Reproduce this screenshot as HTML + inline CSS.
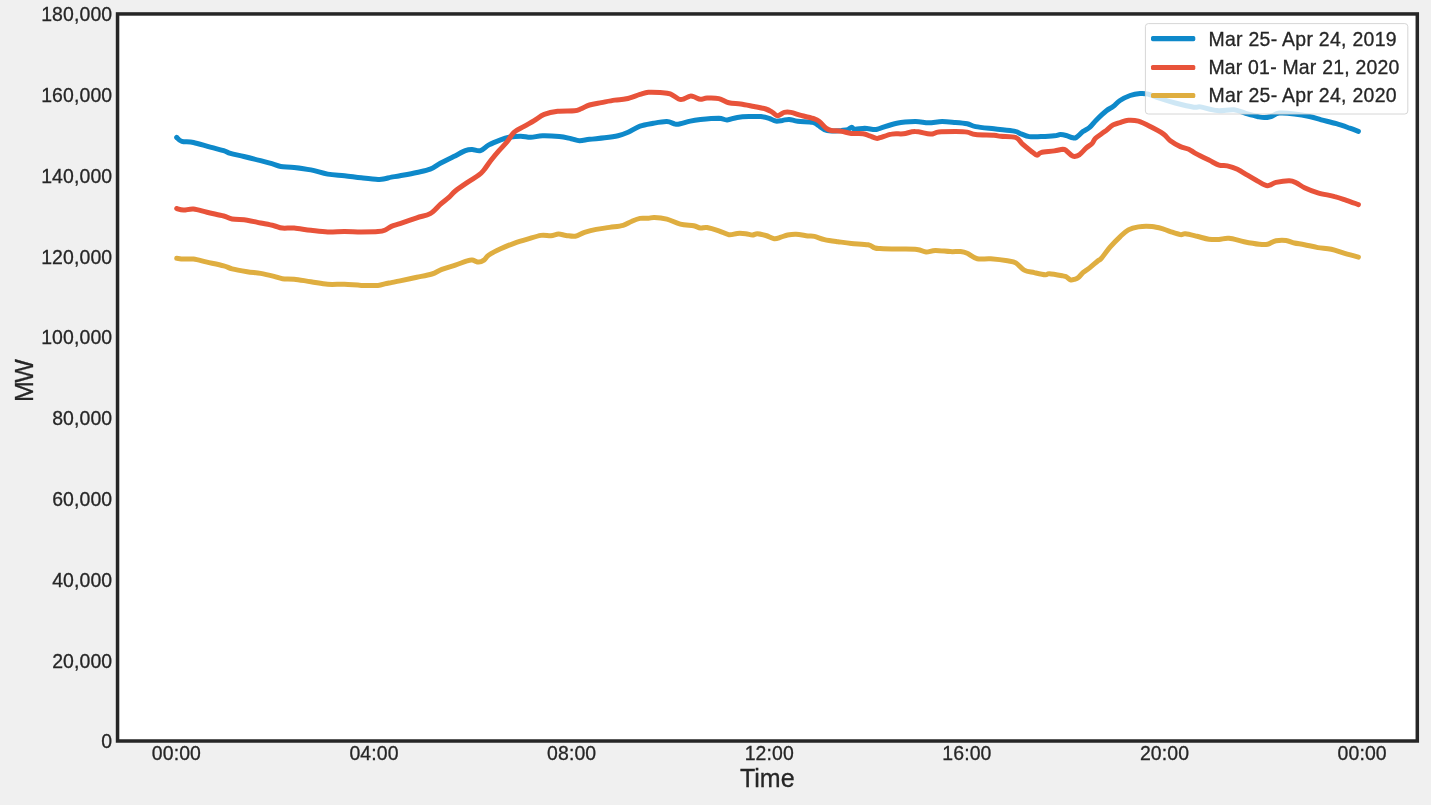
<!DOCTYPE html>
<html lang="en"><head><meta charset="utf-8"><title>Load curve</title>
<style>
html,body{margin:0;padding:0;background:#f0f0f0;}
body{width:1431px;height:805px;overflow:hidden;}
svg{display:block;}
text{font-family:"Liberation Sans",Arial,Helvetica,sans-serif;fill:#262626;stroke:#262626;stroke-width:0.3px;}
.tk{font-size:19.44px;letter-spacing:0.12px;}
.al{font-size:25.0px;}
.ln{fill:none;stroke-width:5.0;stroke-linejoin:round;stroke-linecap:round;}
</style></head><body>
<svg width="1431" height="805" viewBox="0 0 1431 805">
<rect x="0" y="0" width="1431" height="805" fill="#f0f0f0"/>
<rect x="117.55" y="13.95" width="1299.75" height="727.05" fill="#ffffff"/>
<g transform="translate(0,0.4)"><path class="ln" stroke="#0e89ca" d="M176.7,137.1C177.5,137.8 179.0,140.2 181.8,141.0C184.6,141.8 188.8,141.1 193.5,142.1C198.2,143.1 205.3,145.5 210.3,146.8C215.3,148.2 220.3,149.2 223.7,150.2C227.0,151.2 227.0,152.0 230.4,153.0C233.8,154.0 238.9,154.9 243.9,156.1C248.9,157.3 255.6,159.0 260.6,160.3C265.6,161.6 270.6,162.9 274.0,163.9C277.4,164.9 277.4,165.6 280.8,166.1C284.2,166.6 289.2,166.4 294.2,167.0C299.2,167.6 305.3,168.4 310.9,169.5C316.5,170.6 322.1,172.7 327.7,173.7C333.3,174.7 338.9,174.7 344.5,175.3C350.1,175.9 355.7,176.8 361.3,177.4C366.9,178.0 374.1,178.8 378.0,179.0C381.9,179.2 382.5,178.8 384.7,178.4C386.9,178.0 388.8,177.2 391.4,176.7C393.9,176.2 395.8,176.2 400.0,175.4C404.2,174.6 411.8,173.2 416.8,172.1C421.8,171.0 426.3,170.3 430.2,168.8C434.1,167.3 436.4,165.0 440.3,162.9C444.2,160.8 449.5,158.3 453.7,156.2C457.9,154.1 462.3,151.5 465.4,150.3C468.5,149.1 469.6,149.2 472.1,149.2C474.6,149.2 477.7,151.1 480.5,150.3C483.3,149.5 485.5,146.3 488.9,144.5C492.2,142.7 497.2,140.7 500.6,139.4C504.0,138.1 505.6,137.5 509.0,136.9C512.4,136.3 517.2,135.8 520.8,135.8C524.4,135.8 527.2,137.0 530.8,136.9C534.4,136.8 537.9,135.4 542.6,135.3C547.4,135.2 554.5,135.6 559.3,136.1C564.0,136.6 567.7,137.6 571.1,138.3C574.5,139.0 576.4,140.2 579.5,140.3C582.6,140.4 585.3,139.4 589.5,138.9C593.7,138.4 599.9,138.0 604.6,137.4C609.4,136.8 614.1,136.2 618.0,135.3C621.9,134.4 624.4,133.5 628.1,131.9C631.8,130.3 635.8,127.3 640.0,125.8C644.2,124.3 648.9,123.7 653.4,122.9C657.9,122.1 663.2,121.1 666.8,121.2C670.4,121.3 673.0,123.3 675.2,123.7C677.5,124.1 677.8,123.9 680.3,123.4C682.8,122.9 686.9,121.4 690.3,120.7C693.6,120.0 695.6,119.7 700.4,119.2C705.1,118.7 714.3,117.9 718.8,117.9C723.3,118.0 724.1,119.7 727.2,119.5C730.3,119.3 733.7,117.5 737.3,117.0C740.9,116.5 745.1,116.3 749.0,116.2C752.9,116.1 757.4,115.9 760.8,116.2C764.1,116.5 766.6,117.2 769.1,117.9C771.6,118.7 773.6,120.4 775.9,120.7C778.1,121.0 780.4,120.3 782.6,120.0C784.8,119.7 786.8,118.8 789.3,119.0C791.8,119.2 793.8,120.4 797.7,120.9C801.6,121.4 809.4,121.2 812.7,121.9C816.1,122.6 815.8,123.6 817.8,124.8C819.8,126.0 822.3,128.2 824.5,129.2C826.7,130.2 828.4,130.4 831.2,130.6C834.0,130.8 838.5,130.3 841.3,130.1C844.1,129.8 846.3,129.7 848.0,129.1C849.7,128.5 850.6,126.8 851.7,126.8C852.8,126.8 852.5,128.6 854.7,128.8C856.9,129.0 861.4,127.9 864.7,127.9C868.1,128.0 872.2,129.1 874.8,129.1C877.3,129.1 876.3,129.0 880.0,127.9C883.7,126.9 890.9,123.9 896.8,122.8C902.7,121.7 909.9,121.3 915.2,121.2C920.5,121.1 924.1,122.3 928.6,122.3C933.1,122.3 937.6,121.2 942.1,121.2C946.6,121.2 951.3,121.7 955.5,122.0C959.7,122.3 963.9,122.6 967.2,123.3C970.6,124.0 971.1,125.3 975.6,126.2C980.1,127.1 987.6,127.7 994.0,128.4C1000.4,129.2 1009.7,129.9 1014.2,130.7C1018.7,131.5 1018.4,132.5 1020.9,133.4C1023.4,134.3 1026.0,135.7 1029.3,136.2C1032.6,136.7 1036.8,136.3 1041.0,136.2C1045.2,136.1 1051.2,135.8 1054.4,135.4C1057.6,135.1 1058.3,134.2 1060.3,134.1C1062.3,134.0 1064.1,134.5 1066.2,135.1C1068.3,135.7 1071.2,137.1 1072.9,137.4C1074.6,137.7 1074.5,138.1 1076.2,137.1C1077.9,136.1 1080.7,132.9 1082.9,131.2C1085.1,129.5 1087.3,128.9 1089.6,127.0C1091.8,125.0 1093.6,122.3 1096.4,119.5C1099.2,116.7 1103.6,112.5 1106.4,110.3C1109.2,108.1 1110.8,107.8 1113.1,106.1C1115.4,104.4 1117.2,101.9 1120.0,100.1C1122.8,98.3 1126.8,96.3 1130.1,95.1C1133.4,93.9 1137.0,93.3 1140.1,93.1C1143.2,92.9 1145.4,93.0 1148.5,93.8C1151.6,94.5 1154.1,96.1 1158.6,97.6C1163.1,99.1 1169.4,101.1 1175.3,102.6C1181.2,104.1 1189.6,106.1 1193.8,106.8C1198.0,107.5 1196.6,105.9 1200.5,106.5C1204.4,107.1 1211.7,109.7 1217.3,110.2C1222.9,110.7 1229.0,108.9 1234.0,109.4C1239.0,110.0 1243.6,112.4 1247.5,113.5C1251.4,114.6 1254.7,115.5 1257.5,116.1C1260.3,116.7 1262.0,117.2 1264.2,117.2C1266.4,117.2 1268.4,116.8 1270.9,116.1C1273.4,115.3 1275.4,113.1 1279.3,112.7C1283.2,112.3 1289.4,112.9 1294.4,113.5C1299.4,114.1 1305.0,115.1 1309.5,116.1C1314.0,117.1 1316.8,118.2 1321.3,119.4C1325.8,120.6 1331.7,121.9 1336.4,123.3C1341.2,124.7 1346.1,126.5 1349.8,127.8C1353.5,129.1 1357.0,130.4 1358.4,130.9"/>
<path class="ln" stroke="#e8533a" d="M176.7,208.1C177.8,208.4 180.7,209.6 183.5,209.7C186.3,209.8 189.6,208.2 193.5,208.6C197.4,209.0 202.0,210.7 207.0,211.9C212.0,213.1 219.5,214.5 223.7,215.6C227.9,216.7 228.2,217.9 232.1,218.6C236.0,219.3 242.4,219.1 247.2,219.8C251.9,220.5 256.1,221.7 260.6,222.6C265.1,223.5 270.4,224.5 274.0,225.3C277.6,226.2 279.0,227.3 282.4,227.7C285.8,228.1 289.4,227.3 294.2,227.7C298.9,228.1 305.3,229.3 310.9,229.9C316.5,230.5 322.1,231.3 327.7,231.5C333.3,231.7 338.9,231.0 344.5,231.0C350.1,231.0 355.7,231.5 361.3,231.5C366.9,231.5 374.1,231.5 378.0,231.2C381.9,230.9 382.5,230.8 384.7,229.9C386.9,229.0 388.8,227.1 391.4,226.0C393.9,224.9 395.8,224.6 400.0,223.2C404.2,221.8 411.8,219.1 416.8,217.4C421.8,215.7 426.3,215.4 430.2,213.2C434.1,211.0 437.2,206.7 440.3,204.0C443.4,201.3 446.1,199.5 448.6,197.3C451.1,195.1 452.2,193.1 455.3,190.6C458.4,188.1 463.2,184.8 467.1,182.2C471.0,179.5 476.0,176.8 478.8,174.7C481.6,172.6 481.9,172.0 483.9,169.6C485.9,167.2 488.1,163.6 490.6,160.4C493.1,157.2 496.2,153.5 499.0,150.3C501.8,147.1 504.8,144.2 507.3,141.1C509.8,138.0 511.2,134.4 514.0,131.9C516.8,129.4 520.7,128.0 524.1,126.0C527.5,124.0 530.9,122.2 534.2,120.2C537.6,118.2 540.3,115.5 544.2,114.0C548.1,112.5 552.7,111.5 557.7,110.9C562.7,110.3 570.5,110.8 574.4,110.4C578.3,110.0 578.6,109.4 581.1,108.4C583.6,107.4 586.1,105.6 589.5,104.6C592.9,103.6 597.1,103.0 601.3,102.2C605.5,101.4 610.5,100.3 614.7,99.7C618.9,99.1 622.2,99.4 626.4,98.4C630.6,97.5 636.3,95.1 640.0,94.0C643.7,92.9 645.0,92.2 648.4,91.9C651.8,91.6 656.5,91.9 660.1,92.2C663.7,92.5 667.1,92.4 670.2,93.5C673.3,94.6 676.4,97.8 678.6,98.6C680.8,99.4 681.7,99.1 683.6,98.6C685.5,98.1 688.3,96.0 690.3,95.7C692.2,95.4 693.6,96.4 695.3,96.9C697.0,97.4 698.4,98.8 700.4,98.9C702.4,99.0 704.0,97.8 707.1,97.7C710.2,97.6 715.2,97.4 718.8,98.2C722.4,99.0 725.3,101.4 728.9,102.3C732.5,103.2 736.4,103.0 740.6,103.6C744.8,104.2 749.8,105.3 754.0,106.1C758.2,106.9 762.7,107.6 765.8,108.6C768.9,109.6 770.5,110.9 772.5,112.0C774.5,113.1 775.5,115.3 777.5,115.3C779.5,115.3 782.0,112.5 784.2,112.0C786.4,111.5 788.1,111.5 790.9,112.0C793.7,112.5 797.1,113.9 801.0,115.0C804.9,116.1 811.3,117.4 814.4,118.4C817.5,119.4 817.5,119.6 819.5,121.2C821.5,122.8 824.2,126.4 826.2,127.9C828.2,129.4 828.7,129.6 831.2,130.1C833.7,130.6 837.9,130.3 841.3,130.8C844.6,131.3 847.7,132.6 851.3,133.0C854.9,133.4 860.0,132.9 863.1,133.3C866.2,133.7 867.6,134.7 869.8,135.5C872.0,136.3 874.8,137.7 876.5,138.0C878.2,138.3 877.5,138.0 880.0,137.3C882.5,136.6 887.8,134.3 891.7,133.7C895.6,133.0 899.6,133.8 903.5,133.4C907.4,133.0 910.7,131.1 915.2,131.2C919.7,131.2 926.4,133.6 930.3,133.7C934.2,133.8 934.5,132.0 938.7,131.6C942.9,131.2 950.8,131.2 955.5,131.2C960.2,131.2 963.9,131.2 967.2,131.7C970.6,132.2 971.1,133.7 975.6,134.2C980.1,134.7 989.8,134.6 994.0,134.9C998.2,135.2 997.2,135.5 1000.8,135.9C1004.4,136.3 1012.2,135.8 1015.8,137.1C1019.4,138.4 1020.1,141.6 1022.6,143.8C1025.1,146.0 1028.5,148.7 1030.9,150.5C1033.3,152.3 1035.1,154.4 1036.8,154.7C1038.5,155.0 1038.1,152.9 1041.0,152.2C1043.9,151.5 1050.8,151.1 1054.4,150.5C1058.0,149.9 1060.8,148.9 1062.8,148.8C1064.8,148.8 1064.8,149.2 1066.2,150.2C1067.6,151.2 1069.8,153.7 1071.2,154.7C1072.6,155.7 1073.2,156.1 1074.6,156.0C1076.0,155.9 1077.6,155.6 1079.6,154.2C1081.5,152.8 1084.2,149.4 1086.3,147.5C1088.4,145.6 1090.7,144.6 1092.2,143.0C1093.7,141.4 1093.4,139.9 1095.5,137.9C1097.6,135.9 1101.8,133.4 1104.7,131.2C1107.6,129.0 1110.5,126.0 1113.1,124.5C1115.6,123.0 1117.5,123.0 1120.0,122.2C1122.5,121.4 1125.3,120.1 1128.4,119.9C1131.5,119.7 1134.8,119.8 1138.4,120.8C1142.0,121.8 1146.0,123.9 1150.2,126.1C1154.4,128.2 1160.2,131.3 1163.6,133.7C1166.9,136.1 1167.5,138.3 1170.3,140.4C1173.1,142.5 1177.3,144.8 1180.4,146.2C1183.5,147.6 1186.3,147.7 1188.8,148.8C1191.3,149.9 1192.2,151.2 1195.5,153.0C1198.8,154.8 1205.0,157.8 1208.9,159.7C1212.8,161.6 1215.9,163.7 1219.0,164.7C1222.1,165.7 1224.2,164.8 1227.3,165.5C1230.4,166.2 1234.0,167.3 1237.4,168.9C1240.8,170.5 1244.2,172.9 1247.5,174.8C1250.8,176.8 1254.2,178.8 1257.5,180.6C1260.8,182.3 1264.5,185.1 1267.6,185.3C1270.7,185.5 1272.4,182.8 1276.0,182.0C1279.6,181.2 1286.1,180.2 1289.4,180.3C1292.8,180.4 1293.6,181.1 1296.1,182.3C1298.6,183.5 1300.9,185.6 1304.5,187.3C1308.1,189.0 1312.9,190.9 1317.9,192.4C1322.9,193.9 1330.0,194.9 1334.7,196.2C1339.5,197.4 1342.5,198.6 1346.4,199.9C1350.4,201.2 1356.4,203.5 1358.4,204.2"/>
<path class="ln" stroke="#dfae40" d="M176.7,257.9C177.8,258.0 180.7,258.6 183.5,258.7C186.3,258.8 189.6,258.2 193.5,258.7C197.4,259.2 202.0,260.6 207.0,261.7C212.0,262.8 219.5,264.3 223.7,265.4C227.9,266.5 228.2,267.4 232.1,268.4C236.0,269.4 242.4,270.5 247.2,271.3C251.9,272.1 256.1,272.2 260.6,273.0C265.1,273.8 270.4,275.1 274.0,276.0C277.6,276.9 279.0,277.8 282.4,278.3C285.8,278.8 289.4,278.3 294.2,278.8C298.9,279.3 305.3,280.5 310.9,281.3C316.5,282.1 322.1,283.5 327.7,283.9C333.3,284.3 338.9,283.7 344.5,283.9C350.1,284.1 355.7,284.8 361.3,285.0C366.9,285.2 374.1,285.2 378.0,285.0C381.9,284.8 382.5,284.0 384.7,283.5C386.9,283.0 388.8,282.7 391.4,282.2C393.9,281.7 395.8,281.4 400.0,280.5C404.2,279.6 411.5,278.0 416.8,276.9C422.1,275.8 427.7,274.9 431.9,273.6C436.1,272.3 438.0,270.4 441.9,268.9C445.8,267.4 451.1,266.1 455.3,264.7C459.5,263.3 464.3,261.3 467.1,260.5C469.9,259.7 470.2,259.5 472.1,259.7C474.1,259.9 476.8,261.7 478.8,261.7C480.8,261.7 482.2,260.9 483.9,259.7C485.6,258.5 486.1,256.5 488.9,254.6C491.7,252.7 496.4,250.3 500.6,248.4C504.8,246.5 509.5,244.5 514.0,242.9C518.5,241.3 523.0,240.0 527.5,238.7C532.0,237.4 537.0,235.6 540.9,235.0C544.8,234.4 548.0,235.5 550.9,235.3C553.8,235.1 556.0,233.8 558.5,233.7C561.0,233.6 563.2,234.7 566.0,235.0C568.8,235.3 572.2,236.3 575.3,235.8C578.4,235.3 581.0,233.1 584.5,232.0C588.0,230.9 592.0,229.8 596.2,229.0C600.4,228.2 605.1,227.7 609.6,227.0C614.1,226.3 619.5,225.9 623.1,224.9C626.7,223.9 628.6,222.2 631.4,221.1C634.2,219.9 637.2,218.5 640.0,218.0C642.8,217.5 646.0,218.1 648.4,217.9C650.8,217.7 651.2,216.9 654.3,217.0C657.4,217.1 662.5,217.6 666.8,218.7C671.1,219.8 675.8,222.6 680.3,223.7C684.8,224.8 690.4,224.8 693.7,225.4C697.1,226.1 698.2,227.3 700.4,227.6C702.6,227.9 704.0,226.6 707.1,227.1C710.2,227.6 715.2,229.2 718.8,230.4C722.4,231.6 725.8,233.9 728.9,234.3C732.0,234.7 734.5,233.2 737.3,233.0C740.1,232.8 743.2,233.0 745.7,233.3C748.2,233.6 750.5,234.6 752.4,234.6C754.3,234.6 755.2,233.2 757.4,233.3C759.6,233.4 763.0,234.3 765.8,235.1C768.6,235.9 771.7,238.0 774.2,238.3C776.7,238.6 778.7,237.4 780.9,236.8C783.1,236.2 785.1,235.1 787.6,234.6C790.1,234.1 792.6,233.7 796.0,233.8C799.4,234.0 804.6,235.1 807.7,235.5C810.8,235.9 811.6,235.4 814.4,236.0C817.2,236.6 820.6,238.3 824.5,239.2C828.4,240.1 833.4,240.7 837.9,241.3C842.4,241.9 846.3,242.5 851.3,243.0C856.3,243.5 864.2,243.7 868.1,244.4C872.0,245.2 872.8,246.9 874.8,247.5C876.8,248.1 876.3,248.0 880.0,248.2C883.7,248.4 890.6,248.6 896.8,248.7C902.9,248.8 912.0,248.5 916.9,249.0C921.8,249.5 923.0,251.4 926.1,251.6C929.2,251.8 931.2,250.1 935.3,250.0C939.3,249.9 946.2,251.0 950.4,251.2C954.6,251.4 957.7,250.9 960.5,251.2C963.3,251.5 964.4,251.7 967.2,252.9C970.0,254.1 973.4,257.4 977.3,258.3C981.2,259.2 985.7,258.0 990.7,258.4C995.7,258.8 1003.3,259.7 1007.5,260.4C1011.7,261.1 1013.0,260.9 1015.8,262.5C1018.6,264.1 1021.1,268.1 1024.2,269.7C1027.3,271.3 1030.8,271.4 1034.3,272.2C1037.8,273.0 1042.7,274.2 1045.2,274.4C1047.7,274.6 1046.5,273.2 1049.4,273.4C1052.3,273.6 1060.0,275.0 1062.8,275.5C1065.6,276.0 1064.9,275.8 1066.2,276.4C1067.5,277.0 1069.0,279.0 1070.4,279.4C1071.8,279.8 1073.2,279.3 1074.6,278.9C1076.0,278.5 1077.3,278.0 1078.7,276.9C1080.1,275.8 1081.1,273.8 1082.9,272.2C1084.7,270.6 1087.1,269.5 1089.6,267.5C1092.1,265.5 1096.0,262.0 1098.0,260.4C1100.0,258.8 1099.4,260.1 1101.4,257.9C1103.4,255.7 1106.7,250.6 1109.8,247.0C1112.9,243.4 1116.9,239.3 1120.0,236.4C1123.1,233.5 1125.3,231.2 1128.4,229.5C1131.5,227.8 1134.5,227.1 1138.4,226.5C1142.3,225.9 1147.7,225.8 1151.9,226.2C1156.1,226.6 1160.5,227.9 1163.6,228.7C1166.7,229.5 1167.5,230.3 1170.3,231.2C1173.1,232.1 1177.9,233.8 1180.4,234.2C1182.9,234.6 1182.6,233.1 1185.4,233.4C1188.2,233.7 1193.2,235.0 1197.1,235.9C1201.0,236.8 1205.2,238.3 1208.9,238.8C1212.6,239.3 1215.7,239.2 1219.0,239.1C1222.3,238.9 1224.8,237.5 1229.0,237.9C1233.2,238.3 1239.1,240.3 1244.1,241.3C1249.1,242.3 1255.3,243.4 1259.2,243.8C1263.1,244.2 1264.8,244.4 1267.6,243.8C1270.4,243.2 1272.9,241.0 1276.0,240.4C1279.1,239.8 1282.9,239.7 1286.0,240.1C1289.1,240.5 1291.3,241.9 1294.4,242.6C1297.5,243.3 1300.6,243.5 1304.5,244.3C1308.4,245.1 1313.4,246.4 1317.9,247.2C1322.4,247.9 1326.8,247.8 1331.3,248.8C1335.8,249.8 1340.2,251.7 1344.7,253.0C1349.2,254.3 1356.1,256.1 1358.4,256.7"/></g>
<rect x="117.55" y="13.95" width="1299.75" height="727.05" fill="none" stroke="#262626" stroke-width="3.5"/>

<text class="tk" x="112.3" y="748.40" text-anchor="end">0</text>
<text class="tk" x="112.3" y="667.62" text-anchor="end">20,000</text>
<text class="tk" x="112.3" y="586.83" text-anchor="end">40,000</text>
<text class="tk" x="112.3" y="506.05" text-anchor="end">60,000</text>
<text class="tk" x="112.3" y="425.27" text-anchor="end">80,000</text>
<text class="tk" x="112.3" y="344.48" text-anchor="end">100,000</text>
<text class="tk" x="112.3" y="263.70" text-anchor="end">120,000</text>
<text class="tk" x="112.3" y="182.92" text-anchor="end">140,000</text>
<text class="tk" x="112.3" y="102.13" text-anchor="end">160,000</text>
<text class="tk" x="112.3" y="21.35" text-anchor="end">180,000</text>
<text class="tk" x="176.40" y="760.0" text-anchor="middle">00:00</text>
<text class="tk" x="374.03" y="760.0" text-anchor="middle">04:00</text>
<text class="tk" x="571.66" y="760.0" text-anchor="middle">08:00</text>
<text class="tk" x="769.29" y="760.0" text-anchor="middle">12:00</text>
<text class="tk" x="966.92" y="760.0" text-anchor="middle">16:00</text>
<text class="tk" x="1164.55" y="760.0" text-anchor="middle">20:00</text>
<text class="tk" x="1362.18" y="760.0" text-anchor="middle">00:00</text>
<text class="al" x="767.3" y="787.0" text-anchor="middle">Time</text>
<text class="al" transform="translate(33.1,402.0) rotate(-90)" text-anchor="start" letter-spacing="-1.6">MW</text>
<g>
<rect x="1145.4" y="23.6" width="262.4" height="90.4" rx="3" ry="3" fill="#ffffff" fill-opacity="0.8" stroke="#cfcfcf" stroke-opacity="0.85" stroke-width="1"/>
<rect x="1151" y="36.0" width="44.3" height="5.2" rx="1.7" fill="#0e89ca"/>
<rect x="1151" y="64.9" width="44.3" height="5.2" rx="1.7" fill="#e8533a"/>
<rect x="1151" y="92.9" width="44.3" height="5.2" rx="1.7" fill="#dfae40"/>
<text class="tk" x="1208.4" y="45.8" textLength="188.3" lengthAdjust="spacing">Mar 25- Apr 24, 2019</text>
<text class="tk" x="1208.4" y="74.3" textLength="191.0" lengthAdjust="spacing">Mar 01- Mar 21, 2020</text>
<text class="tk" x="1208.4" y="102.3" textLength="188.3" lengthAdjust="spacing">Mar 25- Apr 24, 2020</text>
</g>
</svg>
</body></html>
